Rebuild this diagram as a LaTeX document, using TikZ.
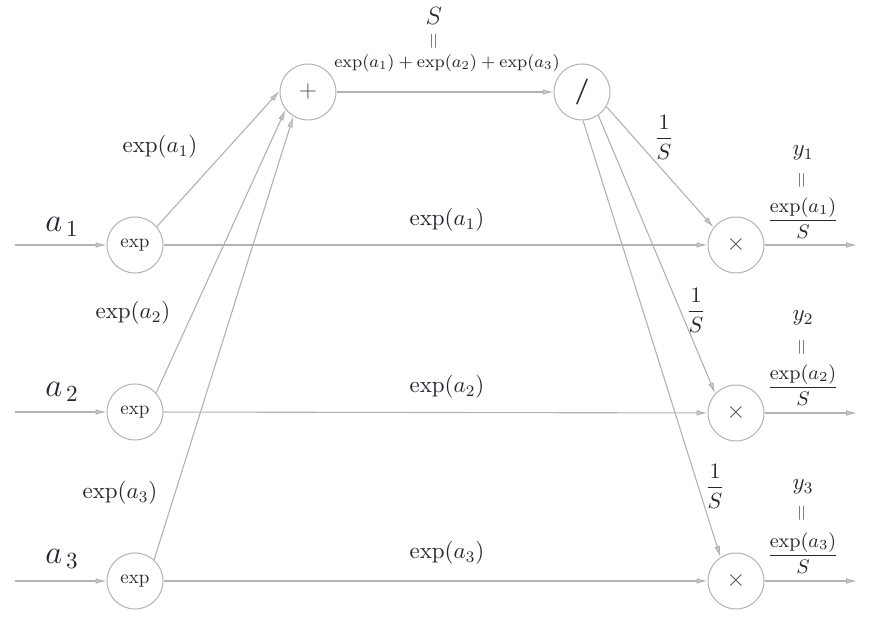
\RequirePackage{fix-cm}
\documentclass[tikz,border=0pt]{standalone}
\usepackage{amsmath}
\usetikzlibrary{arrows.meta}
\definecolor{ln}{HTML}{B2B2B2}
\definecolor{eqc}{HTML}{9040B0}
\definecolor{tx}{HTML}{262630}
\begin{document}
\begin{tikzpicture}[x=0.5pt,y=-0.5pt,
  opnode/.style={circle,draw=ln,line width=0.5pt,minimum size=28pt,inner sep=0pt,text=tx},
  ar/.style={draw=ln,line width=0.55pt,-{Latex[length=5.5pt,width=2.8pt,fill=ln!60,color=ln]}},
  lab/.style={text=tx,inner sep=0pt,font=\fontsize{11.5}{13}\selectfont},
  biglab/.style={text=tx,inner sep=0pt,font=\fontsize{16.5}{18}\selectfont},
  small/.style={text=tx,inner sep=0pt,font=\fontsize{8.6}{10}\selectfont},
  eqlab/.style={text=eqc,inner sep=0pt,rotate=90,font=\fontsize{10.5}{11}\selectfont},
  frlab/.style={text=tx,inner sep=0pt,font=\fontsize{11}{12}\selectfont}]
\useasboundingbox (0,0) rectangle (873,619);

% operation nodes
\node[opnode,font=\fontsize{9.5}{10}\selectfont] (e1) at (135,245) {exp};
\node[opnode,font=\fontsize{9.5}{10}\selectfont] (e2) at (135,412) {exp};
\node[opnode,font=\fontsize{9.5}{10}\selectfont] (e3) at (135,581) {exp};
\node[opnode,text=tx!80,font=\fontsize{12}{12}\selectfont] (plus) at (308,92) {$+$};
\node[opnode,font=\fontsize{13}{13}\selectfont] (slash) at (582,92) {$\boldsymbol{/}$};
\node[opnode,text=tx!85,font=\fontsize{12}{12}\selectfont] (m1) at (736,245) {$\times$};
\node[opnode,text=tx!85,font=\fontsize{12}{12}\selectfont] (m2) at (736,413) {$\times$};
\node[opnode,text=tx!85,font=\fontsize{12}{12}\selectfont] (m3) at (736,581) {$\times$};

% free ends
\coordinate (in1) at (15,245);
\coordinate (in2) at (15,412);
\coordinate (in3) at (15,581);
\coordinate (out1) at (857,245);
\coordinate (out2) at (857,413);
\coordinate (out3) at (857,581);

% connectors
\draw[ar] (in1) -- (e1);
\draw[ar] (in2) -- (e2);
\draw[ar] (in3) -- (e3);
\draw[ar] (e1) -- (m1);
\draw[ar] (e2) -- (m2);
\draw[ar] (e3) -- (m3);
\draw[ar] (e1.40) -- (plus.178);
\draw[ar] (e2.42) -- (plus.218);
\draw[ar] (e3.48) -- (plus.239);
\draw[ar] (plus) -- (slash);
\draw[ar] (slash.-31) -- (m1.142);
\draw[ar] (slash.-55) -- (m2.137);
\draw[ar] (slash.-88) -- (m3.123);
\draw[ar] (m1) -- (out1);
\draw[ar] (m2) -- (out2);
\draw[ar] (m3) -- (out3);

% input labels
\node[biglab] (la1) at (62,227) {$a_{\,1}$};
\node[biglab] (la2) at (62,392) {$a_{\,2}$};
\node[biglab] (la3) at (62,559) {$a_{\,3}$};

% diagonal labels
\node[lab] (d1) at (160,147) {$\exp(a_1)$};
\node[lab] (d2) at (133,313) {$\exp(a_2)$};
\node[lab] (d3) at (120,493) {$\exp(a_3)$};

% horizontal labels
\node[lab] (h1) at (447,220) {$\exp(a_1)$};
\node[lab] (h2) at (447,387) {$\exp(a_2)$};
\node[lab] (h3) at (447,553) {$\exp(a_3)$};

% sum label
\node[text=tx,inner sep=0pt,font=\fontsize{12.5}{14}\selectfont] (S) at (434,16) {$S$};
\node[eqlab] (Seq) at (435,41) {$=$};
\node[small] (sum) at (447,63) {$\exp(a_1)+\exp(a_2)+\exp(a_3)$};

% 1/S labels
\node[frlab] (r1) at (664,137) {$\dfrac{1}{S}$};
\node[frlab] (r2) at (696,310) {$\dfrac{1}{S}$};
\node[frlab] (r3) at (715,486) {$\dfrac{1}{S}$};

% outputs
\node[lab] (y1) at (803,153) {$y_1$};
\node[eqlab] (y1eq) at (803,180) {$=$};
\node[frlab,font=\fontsize{9.8}{11}\selectfont] (f1) at (803,218) {$\dfrac{\exp(a_1)}{S}$};
\node[lab] (y2) at (803,318) {$y_2$};
\node[eqlab] (y2eq) at (803,347) {$=$};
\node[frlab,font=\fontsize{9.8}{11}\selectfont] (f2) at (803,385) {$\dfrac{\exp(a_2)}{S}$};
\node[lab] (y3) at (803,487) {$y_3$};
\node[eqlab] (y3eq) at (803,513) {$=$};
\node[frlab,font=\fontsize{9.8}{11}\selectfont] (f3) at (803,553) {$\dfrac{\exp(a_3)}{S}$};
\end{tikzpicture}
\end{document}
